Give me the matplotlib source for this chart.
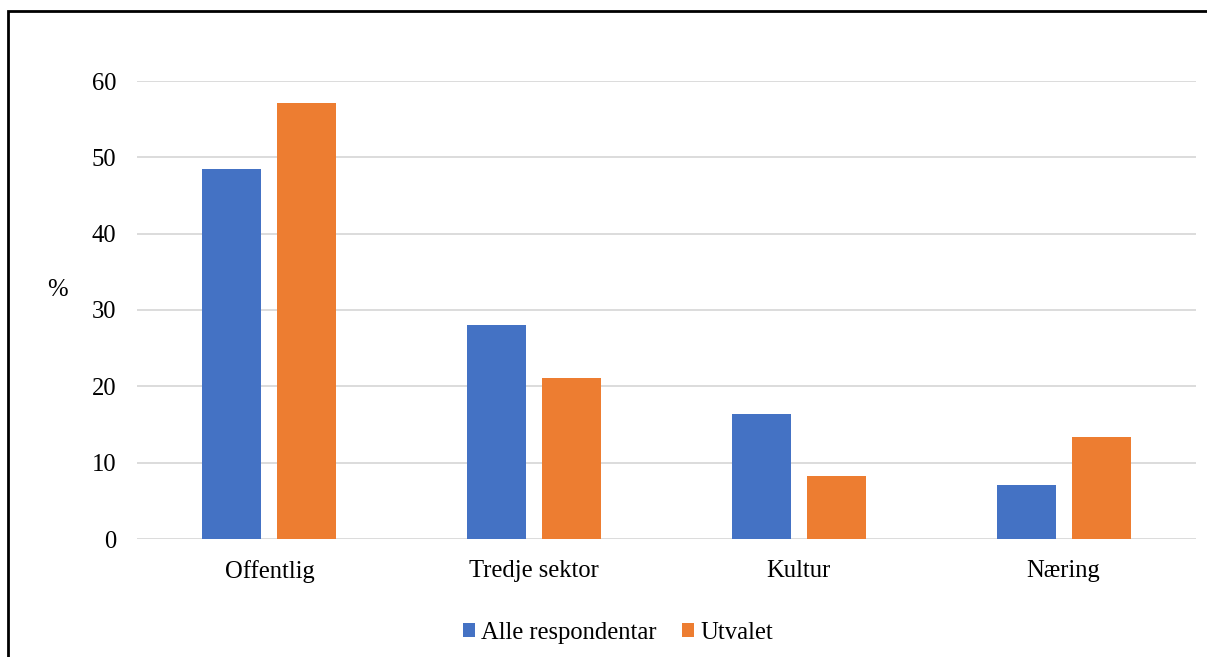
import numpy as np
import matplotlib.pyplot as plt
from matplotlib.patches import Rectangle

categories = ['Offentlig', 'Tredje sektor', 'Kultur', 'Næring']
alle = [48.5, 28.1, 16.4, 7.05]
utvalet = [57.1, 21.1, 8.3, 13.4]
series_names = ['Alle respondentar', 'Utvalet']
yticks = [0, 10, 20, 30, 40, 50, 60]

BLUE = '#4472c4'
ORANGE = '#ed7d31'
FS = 17.7

plt.rcParams['font.family'] = ['Liberation Serif', 'DejaVu Serif']

W, H = 1207, 657
fig = plt.figure(figsize=(W / 100, H / 100), dpi=100)
# axes box in pixels: left 137, right 1196, top 81, bottom 539
ax = fig.add_axes([137 / W, 1 - 539 / H, (1196 - 137) / W, (539 - 81) / H])

x = np.arange(len(categories))
bw = 0.223
off = 0.1417
ax.bar(x - off, alle, bw, color=BLUE, label=series_names[0], zorder=3)
ax.bar(x + off, utvalet, bw, color=ORANGE, label=series_names[1], zorder=3)

ax.set_xlim(-0.5, len(categories) - 0.5)
ax.set_ylim(0, 60)
ax.set_yticks(yticks)
ax.set_xticks(x)
ax.set_xticklabels(categories)
ax.tick_params(axis='both', length=0, labelsize=FS, colors='black')
ax.tick_params(axis='y', pad=15)
ax.tick_params(axis='x', pad=15)
ax.grid(axis='y', color='#d9d9d9', linewidth=1.3, zorder=0)
for s in ['top', 'right', 'left', 'bottom']:
    ax.spines[s].set_visible(False)

fig.text(57 / W, 1 - 290 / H, '%', fontsize=FS, ha='center', va='center')

leg = fig.legend(loc='center', bbox_to_anchor=(618 / W, 1 - 633 / H), ncol=2,
                 frameon=False, fontsize=FS, handlelength=0.5, handleheight=0.5,
                 handletextpad=0.25, columnspacing=1.03)

# outer frame, open to the right and bottom
fig.patches.append(Rectangle((8 / W, -0.1), 1.2, 1 - 11 / H + 0.1,
                             transform=fig.transFigure, fill=False,
                             edgecolor='black', linewidth=2))

fig.savefig('out.png', dpi=100)
